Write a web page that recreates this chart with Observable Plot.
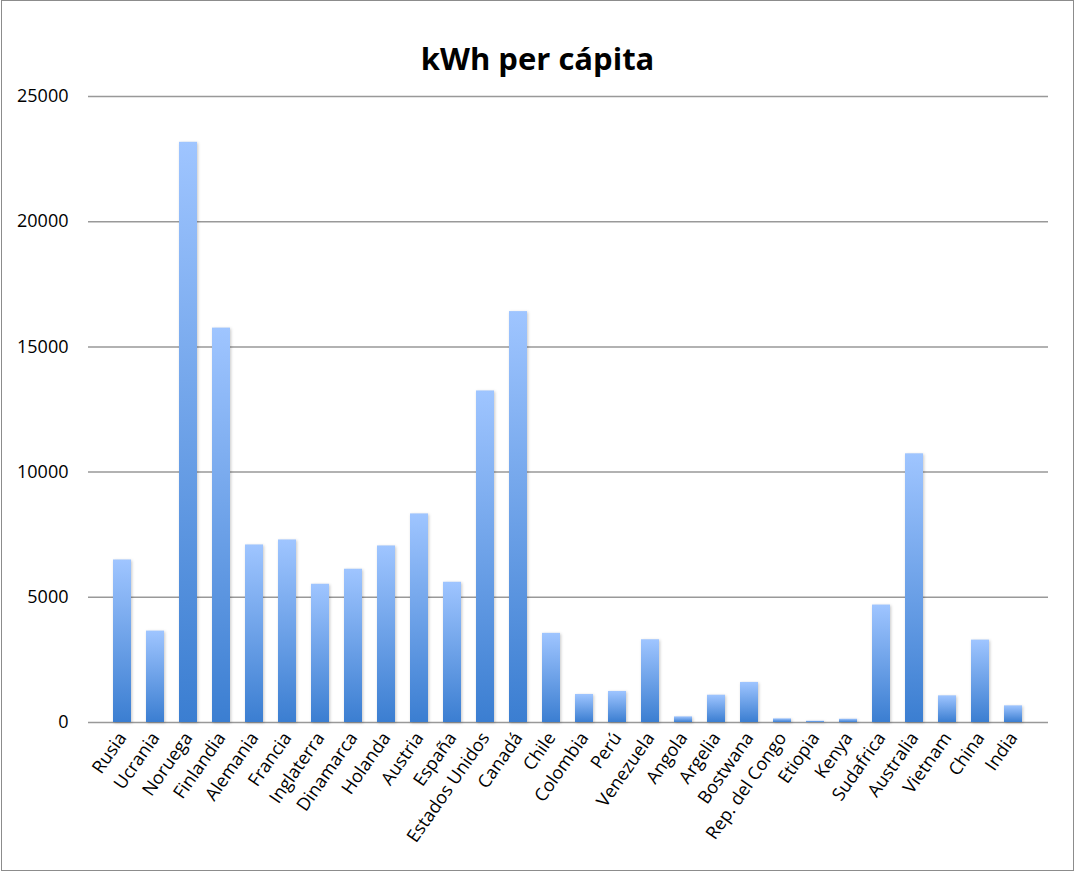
<!DOCTYPE html>
<html>
<head>
<meta charset="utf-8">
<script src="https://cdn.jsdelivr.net/npm/d3@7"></script>
<script src="https://cdn.jsdelivr.net/npm/@observablehq/plot@0.6"></script>
<style>
  html, body { margin: 0; padding: 0; background: #fff; }
  #wrap { position: relative; width: 1076px; height: 873px; overflow: hidden; }
  #frame { position: absolute; left: 1px; top: 0px; width: 1073px; height: 871px; border: 1.5px solid #8c8c8c; box-sizing: border-box; pointer-events: none; }
  g[aria-label="bar"] rect { filter: drop-shadow(1px 1px 1.5px rgba(0,0,0,0.22)); }
</style>
</head>
<body>
<div id="wrap"><div id="frame"></div></div>
<script>
const countries = ["Rusia","Ucrania","Noruega","Finlandia","Alemania","Francia","Inglaterra","Dinamarca","Holanda","Austria","España","Estados Unidos","Canadá","Chile","Colombia","Perú","Venezuela","Angola","Argelia","Bostwana","Rep. del Congo","Etiopia","Kenya","Sudafrica","Australia","Vietnam","China","India"];
const values = [6490,3650,23170,15750,7090,7290,5520,6120,7050,8330,5600,13240,16410,3560,1120,1240,3305,225,1090,1600,145,50,130,4690,10730,1065,3290,665];
const yTicks = [0,5000,10000,15000,20000,25000];
const title = "kWh per cápita";

const data = countries.map((c, i) => ({country: c, value: values[i]}));

const defs = () => {
  const g = d3.create("svg:defs");
  const lg = g.append("linearGradient").attr("id", "barGrad")
    .attr("x1", 0).attr("y1", 0).attr("x2", 0).attr("y2", 1);
  lg.append("stop").attr("offset", "0%").attr("stop-color", "#9fc5ff");
  lg.append("stop").attr("offset", "100%").attr("stop-color", "#3b7ed1");
  return g.node();
};

const chart = Plot.plot({
  width: 1076,
  height: 873,
  marginLeft: 88,
  marginRight: 28,
  marginTop: 96,
  marginBottom: 151,
  style: {fontFamily: "'Open Sans', sans-serif", fontSize: "18px", color: "#000", background: "transparent", overflow: "visible"},
  x: {domain: countries, padding: 0.45, axis: null},
  y: {domain: [0, 25000], axis: null},
  marks: [
    defs,
    Plot.ruleY(yTicks, {stroke: "#999", strokeWidth: 1.5}),
    Plot.barY(data, {x: "country", y: "value", fill: "url(#barGrad)"}),
    Plot.axisY(yTicks, {tickSize: 0, tickPadding: 20, tickFormat: d3.format("d"), label: null, fontSize: 18, fill: "#000"}),
    Plot.axisX({tickSize: 0, tickRotate: -55, tickPadding: 12, label: null, fontSize: 18, fill: "#000"}),
    Plot.text([title], {frameAnchor: "top", dx: -31, dy: -49, fontSize: 31, fontWeight: "bold", fill: "#000"})
  ]
});
document.getElementById("wrap").prepend(chart);
</script>
</body>
</html>
